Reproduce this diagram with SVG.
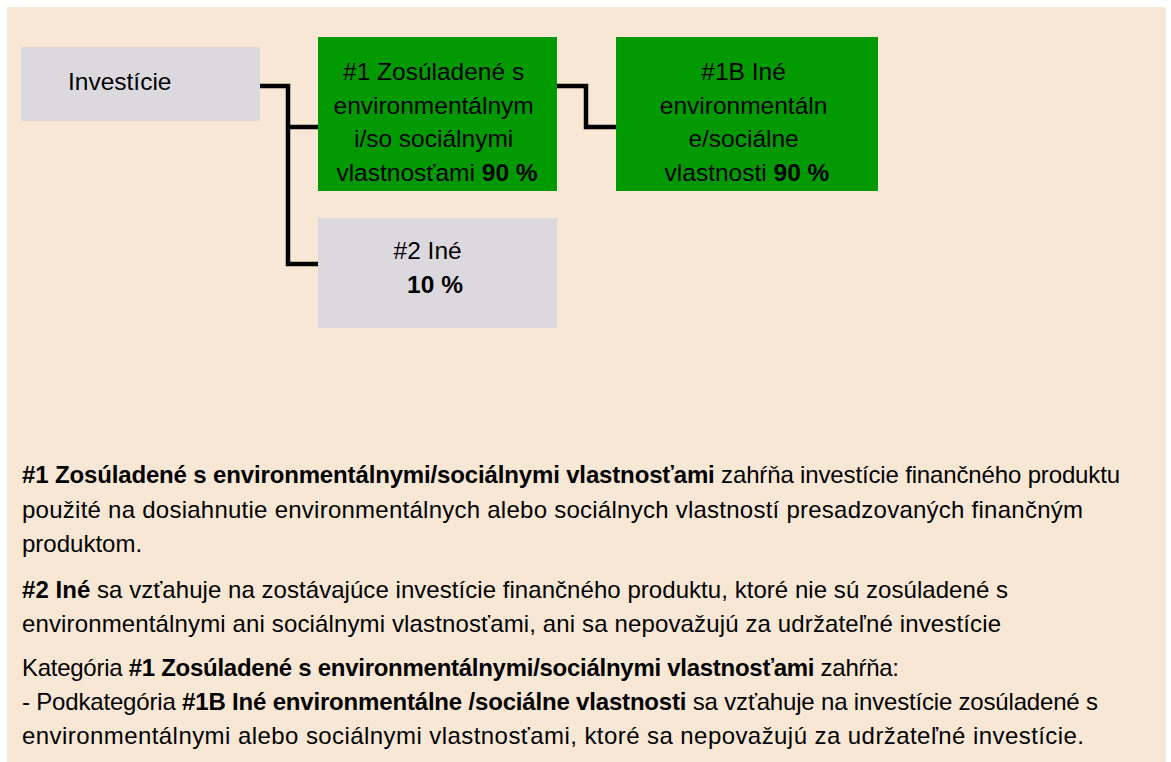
<svg xmlns="http://www.w3.org/2000/svg" width="1171" height="762" viewBox="0 0 1171 762">
<style>
.t{font-family:"Liberation Sans",Arial,sans-serif;fill:#000;}
.box{font-size:24.5px;}
.body{font-size:24px;}
.b{font-weight:bold;}
.gray{fill:#DCD9DE;}
.green{fill:#009900;}
.conn{fill:none;stroke:#000;stroke-width:4.5;stroke-linejoin:miter;}
</style>
<rect x="0" y="0" width="1171" height="762" fill="#FFFFFF"/>
<rect x="7" y="7" width="1159" height="755" fill="#F9E7D5"/>
<g id="connectors">
<path class="conn" d="M260,86 H288 V264 H318"/>
<path class="conn" d="M288,127 H318"/>
<path class="conn" d="M557,86 H586 V127 H616"/>
</g>
<g id="node-investicie">
<rect class="gray" x="21" y="47" width="239" height="74"/>
<text class="t box" x="68" y="90" font-size="24">Investície</text>
</g>
<g id="node-1">
<rect class="green" x="318" y="37" width="239" height="154"/>
<text class="t box" text-anchor="middle">
<tspan x="437" y="80">#1 Zosúladené s</tspan>
<tspan x="437" y="114">environmentálnym</tspan>
<tspan x="437" y="147">i/so sociálnymi</tspan>
<tspan x="437" y="181">vlastnosťami <tspan class="b">90 %</tspan></tspan>
</text>
</g>
<g id="node-1b">
<rect class="green" x="616" y="37" width="262" height="154"/>
<text class="t box" text-anchor="middle">
<tspan x="747" y="80">#1B Iné</tspan>
<tspan x="747" y="114">environmentáln</tspan>
<tspan x="747" y="147">e/sociálne</tspan>
<tspan x="747" y="181">vlastnosti <tspan class="b">90 %</tspan></tspan>
</text>
</g>
<g id="node-2">
<rect class="gray" x="318" y="218" width="239" height="110"/>
<text class="t box" text-anchor="middle">
<tspan x="431" y="259">#2 Iné</tspan>
<tspan x="435" y="293" class="b">10 %</tspan>
</text>
</g>
<g id="legend">
<text class="t body" x="22" y="483" textLength="1098"><tspan class="b">#1 Zosúladené s environmentálnymi/sociálnymi vlastnosťami</tspan> zahŕňa investície finančného produktu</text>
<text class="t body" x="22" y="518" textLength="1061">použité na dosiahnutie environmentálnych alebo sociálnych vlastností presadzovaných finančným</text>
<text class="t body" x="22" y="552">produktom.</text>
<text class="t body" x="22" y="598" textLength="986"><tspan class="b">#2 Iné</tspan> sa vzťahuje na zostávajúce investície finančného produktu, ktoré nie sú zosúladené s</text>
<text class="t body" x="22" y="632" textLength="979">environmentálnymi ani sociálnymi vlastnosťami, ani sa nepovažujú za udržateľné investície</text>
<text class="t body" x="22" y="676" textLength="877">Kategória <tspan class="b">#1 Zosúladené s environmentálnymi/sociálnymi vlastnosťami</tspan> zahŕňa:</text>
<text class="t body" x="22" y="710" textLength="1076">- Podkategória <tspan class="b">#1B Iné environmentálne /sociálne vlastnosti</tspan> sa vzťahuje na investície zosúladené s</text>
<text class="t body" x="22" y="744" textLength="1062">environmentálnymi alebo sociálnymi vlastnosťami, ktoré sa nepovažujú za udržateľné investície.</text>
</g>
</svg>
